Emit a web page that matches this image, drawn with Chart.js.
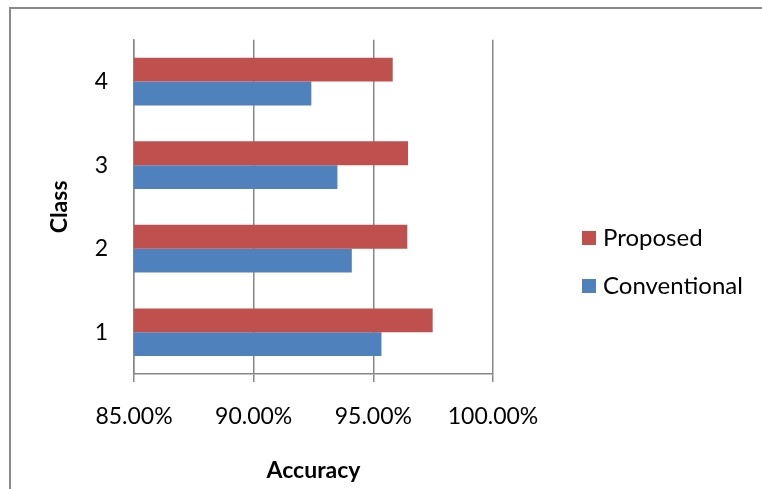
<!DOCTYPE html>
<html>
<head>
<meta charset="utf-8">
<script src="https://cdn.jsdelivr.net/npm/chart.js@4.4.1/dist/chart.umd.min.js"></script>
<style>
  html, body { margin: 0; padding: 0; background: #fff; }
  #wrap { width: 762px; height: 489px; }
</style>
</head>
<body>
<div id="wrap"><canvas id="accChart" width="762" height="489"></canvas></div>
<script>
// datos de la grafica
const clases = ["1", "2", "3", "4"];
const proposed = [97.48, 96.42, 96.45, 95.81];
const conventional = [95.34, 94.10, 93.50, 92.41];
const xTicks = [85, 90, 95, 100];

const GRIS = "#878787";

// marco gris como el de Excel
const marcoPlugin = {
  id: "marco",
  beforeDraw(chart) {
    const ctx = chart.ctx;
    ctx.save();
    ctx.fillStyle = "#fff";
    ctx.fillRect(0, 0, chart.width, chart.height);
    ctx.strokeStyle = "#8a8a8a";
    ctx.lineWidth = 2;
    ctx.beginPath();
    ctx.moveTo(10, chart.height);
    ctx.lineTo(10, 8);
    ctx.lineTo(chart.width, 8);
    ctx.stroke();
    ctx.restore();
  },
};

// leyenda a la derecha
const leyendaPlugin = {
  id: "leyenda",
  afterDraw(chart) {
    const ctx = chart.ctx;
    ctx.save();
    chart.data.datasets.forEach((ds, i) => {
      const y = 238 + i * 48;
      ctx.fillStyle = ds.backgroundColor;
      ctx.fillRect(582, y - 7, 14, 14);
      ctx.fillStyle = "#000";
      ctx.font = "24px Lato";
      ctx.textBaseline = "middle";
      ctx.textAlign = "left";
      ctx.fillText(ds.label, 603, y);
    });
    ctx.restore();
  },
};

Chart.defaults.font.family = "Lato";
Chart.defaults.font.size = 23;
Chart.defaults.color = "#000";

new Chart(document.getElementById("accChart").getContext("2d"), {
  type: "bar",
  data: {
    labels: clases,
    datasets: [
      {
        label: "Proposed",
        data: proposed,
        backgroundColor: "#C0504D",
        categoryPercentage: 0.57,
        barPercentage: 1.0,
      },
      {
        label: "Conventional",
        data: conventional,
        backgroundColor: "#4F81BD",
        categoryPercentage: 0.57,
        barPercentage: 1.0,
      },
    ],
  },
  options: {
    indexAxis: "y",
    responsive: false,
    animation: false,
    layout: { padding: { top: 37, right: 269, left: 0, bottom: 0 } },
    plugins: {
      legend: { display: false },
      tooltip: { enabled: false },
    },
    scales: {
      x: {
        min: xTicks[0],
        max: xTicks[xTicks.length - 1],
        afterBuildTicks: (scale) => {
          scale.ticks = xTicks.map((v) => ({ value: v }));
        },
        afterFit: (scale) => {
          scale.height = 115;
        },
        grid: { color: GRIS, lineWidth: 1.5, tickLength: 8, drawTicks: true },
        border: { color: GRIS, width: 1.5 },
        ticks: {
          padding: 21,
          maxRotation: 0,
          callback: (v) => Number(v).toFixed(2) + "%",
        },
        title: {
          display: true,
          text: "Accuracy",
          font: { weight: "bold", size: 23 },
          padding: { top: 0, bottom: 5 },
        },
      },
      y: {
        reverse: true,
        afterFit: (scale) => {
          scale.width = 134;
        },
        grid: { display: false, drawTicks: false },
        border: { color: GRIS, width: 1.5 },
        ticks: { padding: 26 },
        title: {
          display: true,
          text: "Class",
          font: { weight: "bold", size: 23 },
          padding: { top: 46, bottom: 0 },
        },
      },
    },
  },
  plugins: [marcoPlugin, leyendaPlugin],
});
</script>
</body>
</html>
